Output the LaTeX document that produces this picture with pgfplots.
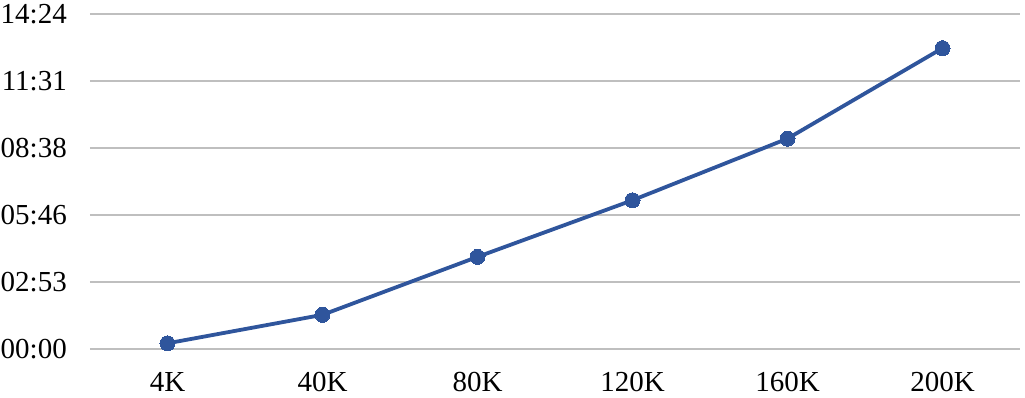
\documentclass[border=0pt]{standalone}
\usepackage{pgfplots}
\pgfplotsset{compat=1.18}
\usepackage{fontspec}
\setmainfont{Liberation Serif}
\definecolor{lineblue}{HTML}{2F559C}
\definecolor{gridgray}{HTML}{BFBFBF}
\begin{document}
\begin{tikzpicture}
\begin{axis}[
  scale only axis,
  width=930pt, height=335pt,
  xmin=-0.5, xmax=5.5, ymin=0, ymax=5,
  axis line style={draw=none},
  xtick={0,1,2,3,4,5},
  xticklabels={4K,40K,80K,120K,160K,200K},
  ytick={0,1,2,3,4,5},
  yticklabels={00:00,02:53,05:46,08:38,11:31,14:24},
  ymajorgrids,
  grid style={gridgray, line width=2.2pt},
  major tick length=0pt,
  tick label style={font=\fontsize{29}{32}\selectfont, text=black, inner sep=0pt},
  yticklabel style={anchor=east, xshift=-23pt},
  xticklabel style={anchor=north, yshift=-23pt},
  /pgf/number format/assume math mode=true,
  clip=false,
]
\addplot[lineblue, line width=3.8pt, mark=*, mark size=7.5pt, mark options={fill=lineblue, draw=lineblue, line width=0pt}]
  coordinates {(0,0.085) (1,0.51) (2,1.375) (3,2.22) (4,3.14) (5,4.49)};
\end{axis}
\pgfresetboundingbox
\path[use as bounding box] (-90pt,-49pt) rectangle (935pt,349pt);
\end{tikzpicture}
\end{document}
